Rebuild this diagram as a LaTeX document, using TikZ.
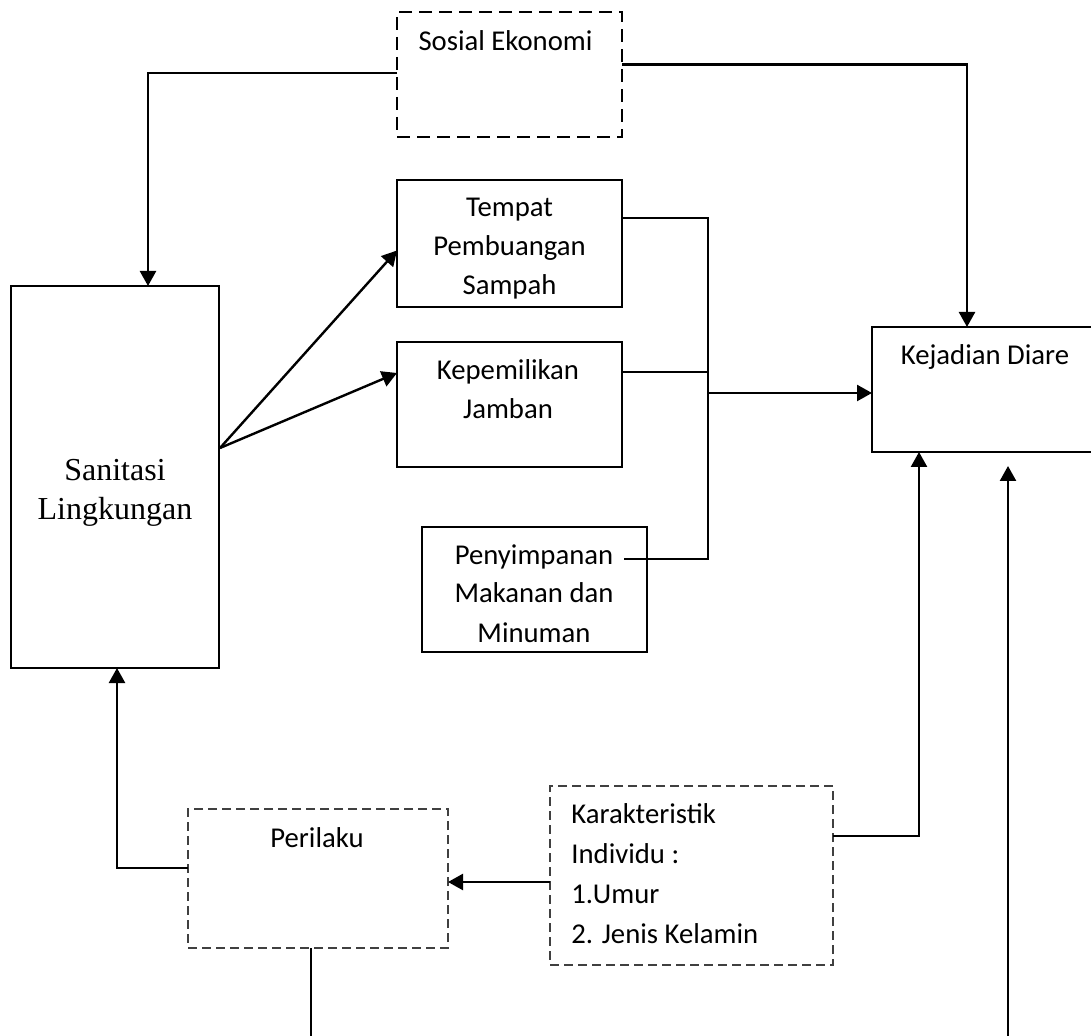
\documentclass[tikz,border=0pt]{standalone}
\usepackage{fontspec}
\setmainfont{Carlito}
\newfontfamily\serifsan{Liberation Serif}
\usetikzlibrary{arrows.meta,calc}
\tikzset{
  box/.style={draw=black, line width=0.65pt, inner sep=0pt, outer sep=0pt, fill=none},
  dbox/.style={box, dash pattern=on 6.5pt off 3.5pt},
  gbox/.style={box, draw=black!75, dash pattern=on 4.5pt off 2.5pt},
  txt/.style={anchor=base, inner sep=0pt, font=\fontsize{14.35}{19.5}\selectfont},
  ltxt/.style={txt, anchor=base west},
  stxt/.style={anchor=base, inner sep=0pt, font=\serifsan\fontsize{16}{19.5}\selectfont},
  conn/.style={line width=1.2pt, draw=black},
  arr/.style={conn, -{Triangle[length=7.5pt,width=8pt]}}
}
\begin{document}
\begin{tikzpicture}[x=0.5pt,y=-0.5pt]
\clip (0,0) rectangle (1091,1036);
\fill[white] (0,0) rectangle (1091,1036);
% boxes
\node[dbox, minimum width=112.5pt, minimum height=62.5pt] (se) at (509.5,74.5) {};
\node[box, minimum width=112.5pt, minimum height=63.5pt] (tps) at (509.5,243.5) {};
\node[box, minimum width=112.5pt, minimum height=62.5pt] (kj) at (509.5,404.5) {};
\node[box, minimum width=112.5pt, minimum height=62.5pt] (pm) at (534.5,589.5) {};
\node[box, minimum width=104pt, minimum height=191pt] (san) at (115,477) {};
\node[box, minimum width=114pt, minimum height=62.5pt] (kd) at (986,389.5) {};
\node[gbox, minimum width=130pt, minimum height=69.5pt] (per) at (318,878.5) {};
\node[gbox, minimum width=141.5pt, minimum height=89.5pt] (ki) at (691.5,875.5) {};
% texts
\node[txt] (t1) at (505.5,51) {Sosial Ekonomi};
\node[txt] (t2a) at (509.5,217) {Tempat};
\node[txt] (t2b) at (509.5,256) {Pembuangan};
\node[txt] (t2c) at (509.5,295) {Sampah};
\node[txt] (t3a) at (508,380) {Kepemilikan};
\node[txt] (t3b) at (508,419) {Jamban};
\node[txt] (t4a) at (534,565) {Penyimpanan};
\node[txt] (t4b) at (534,603) {Makanan dan};
\node[txt] (t4c) at (534,642) {Minuman};
\node[txt] (t5) at (985,365) {Kejadian Diare};
\node[txt] (t6) at (317,847) {Perilaku};
\node[ltxt] (t7a) at (571,823) {Karakteristik};
\node[ltxt] (t7b) at (571,863) {Individu :};
\node[ltxt] (t7c) at (571,903) {1.Umur};
\node[ltxt] (t7d) at (571,943) {2. Jenis Kelamin};
\node[stxt] (t8a) at (115,481) {Sanitasi};
\node[stxt] (t8b) at (115,520) {Lingkungan};
% helper coordinates
\coordinate (j1) at (708,218);
\coordinate (j2) at (708,559);
\coordinate (pmline) at (624,559);
\coordinate (bot1) at (311,1040);
\coordinate (bot2) at (1008,1040);
\coordinate (tip2) at (1008,466);
% connectors
\draw[arr] ($(se.west)+(0,-1.5)$) -| ($(san.north)+(33,0)$);
\draw[arr] ($(se.east)+(0,-10)$) -| ($(kd.north)+(-19,0)$);
\draw[arr] ($(san.east)+(1,-29)$) -- ($(tps.west)+(0,7)$);
\draw[arr] ($(san.east)+(1,-29)$) -- ($(kj.west)+(0,-31.5)$);
\draw[conn] ($(tps.east)+(0,-25.5)$) -- (j1) -- (j2) -- (pmline);
\draw[conn] ($(kj.east)+(0,-32.5)$) -- (j1 |- {(0,372)});
\draw[arr] ($(kd.west -| j1)+(0,3.5)$) -- ($(kd.west)+(0,3.5)$);
\draw[arr] ($(ki.east)+(0,-39.5)$) -| ($(kd.south)+(-67,0)$);
\draw[arr] ($(ki.west)+(0,6.5)$) -- ($(per.east)+(0,3.5)$);
\draw[arr] ($(per.west)+(0,-10.5)$) -| ($(san.south)+(2,0)$);
\draw[conn] ($(per.south)+(-7,0)$) -- (bot1);
\draw[arr] (bot2) -- (tip2);
\end{tikzpicture}
\end{document}
